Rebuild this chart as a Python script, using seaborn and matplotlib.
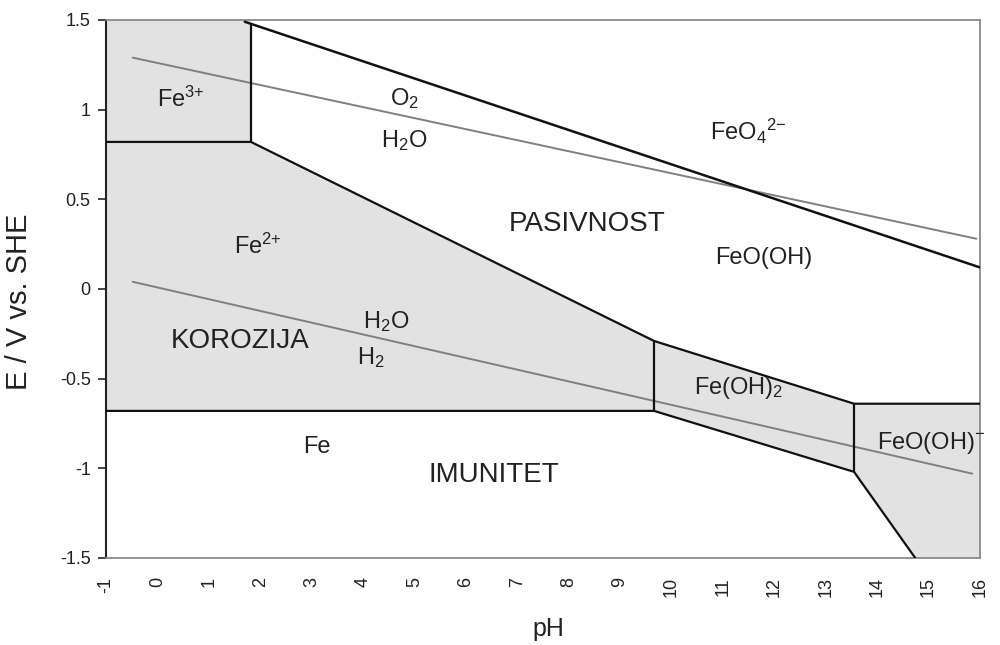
import matplotlib
matplotlib.use("Agg")
import matplotlib.pyplot as plt
import seaborn as sns

sns.set_style("ticks")
plt.rcParams['font.family'] = ['Liberation Sans', 'DejaVu Sans']
plt.rcParams['mathtext.default'] = 'regular'
plt.rcParams['axes.unicode_minus'] = False

# regions of the Pourbaix diagram (pH, E/V)
fe3_ph = [-1, 1.82, 1.82, -1]
fe3_e = [1.5, 1.5, 0.82, 0.82]

fe2_ph = [-1, 1.82, 9.66, 9.66, -1]
fe2_e = [0.82, 0.82, -0.29, -0.68, -0.68]

feoh2_ph = [9.66, 13.55, 13.55, 9.66]
feoh2_e = [-0.29, -0.64, -1.02, -0.68]

feooh_ph = [13.55, 16, 16, 14.74, 13.55]
feooh_e = [-0.64, -0.64, -1.5, -1.5, -1.02]

# boundary lines
upper_ph = [-1, 1.82, 9.66, 13.55, 16]
upper_e = [0.82, 0.82, -0.29, -0.64, -0.64]
lower_ph = [-1, 9.66, 13.55, 14.74]
lower_e = [-0.68, -0.68, -1.02, -1.5]
vert_ph = [1.82, 9.66, 13.55]
vert_top = [1.47, -0.29, -0.64]
vert_bot = [0.82, -0.68, -1.02]
ferrate_ph = [1.7, 16]
ferrate_e = [1.49, 0.12]

# water stability lines
o2_ph = [-0.48, 15.93]
o2_e = [1.29, 0.28]
h2_ph = [-0.48, 15.85]
h2_e = [0.04, -1.03]

labels = [
    (r"Fe$^{3{+}}$", 0.45, 1.06, 17),
    (r"O$_2$", 4.8, 1.06, 17),
    (r"H$_2$O", 4.8, 0.83, 17),
    (r"FeO$_4$$^{2{-}}$", 11.5, 0.88, 17),
    ("PASIVNOST", 8.35, 0.36, 20),
    ("FeO(OH)", 11.8, 0.17, 17),
    (r"Fe$^{2{+}}$", 1.95, 0.24, 17),
    ("KOROZIJA", 1.6, -0.29, 20),
    (r"H$_2$O", 4.45, -0.18, 17),
    (r"H$_2$", 4.15, -0.38, 17),
    ("Fe", 3.1, -0.88, 17),
    ("IMUNITET", 6.55, -1.04, 20),
    (r"Fe(OH)$_2$", 11.3, -0.55, 17),
    (r"FeO(OH)$^{{-}}$", 15.05, -0.86, 17),
]

fig, ax = plt.subplots(figsize=(10, 6.45), dpi=100)
fig.subplots_adjust(left=0.106, right=0.98, top=0.969, bottom=0.135)

fill_col = "#e2e2e2"
for px, py in [(fe3_ph, fe3_e), (fe2_ph, fe2_e), (feoh2_ph, feoh2_e), (feooh_ph, feooh_e)]:
    ax.fill(px, py, color=fill_col, lw=0, zorder=1)

# water lines
sns.lineplot(x=o2_ph, y=o2_e, ax=ax, color="#808080", lw=1.4, sort=False, estimator=None, zorder=2)
sns.lineplot(x=h2_ph, y=h2_e, ax=ax, color="#808080", lw=1.4, sort=False, estimator=None, zorder=2)

# phase boundaries
sns.lineplot(x=upper_ph, y=upper_e, ax=ax, color="#111111", lw=1.6, sort=False, estimator=None, zorder=3)
sns.lineplot(x=lower_ph, y=lower_e, ax=ax, color="#111111", lw=1.6, sort=False, estimator=None, zorder=3)
sns.lineplot(x=ferrate_ph, y=ferrate_e, ax=ax, color="#111111", lw=1.8, sort=False, estimator=None, zorder=3)
ax.vlines(vert_ph, vert_bot, vert_top, color="#111111", lw=1.6, zorder=3)

for txt, x, y, fs in labels:
    ax.text(x, y, txt, fontsize=fs, ha="center", va="center", color="#222222", zorder=4, clip_on=False)

ax.set_xlim(-1, 16)
ax.set_ylim(-1.5, 1.5)
ax.set_xticks(range(-1, 17))
ax.set_yticks([-1.5, -1, -0.5, 0, 0.5, 1, 1.5])
ax.set_yticklabels(["-1.5", "-1", "-0.5", "0", "0.5", "1", "1.5"])
ax.tick_params(axis="x", length=0, pad=14, labelsize=13, labelrotation=90, colors="#222222")
ax.tick_params(axis="y", length=6, width=1.2, pad=5, labelsize=13, colors="#222222")

ax.set_xlabel("pH", fontsize=18, color="#222222")
ax.set_ylabel("E / V vs. SHE", fontsize=21, color="#222222")
ax.xaxis.set_label_coords(0.506, -0.11)
ax.yaxis.set_label_coords(-0.083, 0.476)

ax.spines["left"].set_color("#222222")
ax.spines["left"].set_linewidth(1.5)
for s in ["top", "right", "bottom"]:
    ax.spines[s].set_color("#8a8a8a")
    ax.spines[s].set_linewidth(1.3)

fig.savefig("out.png", dpi=100)
